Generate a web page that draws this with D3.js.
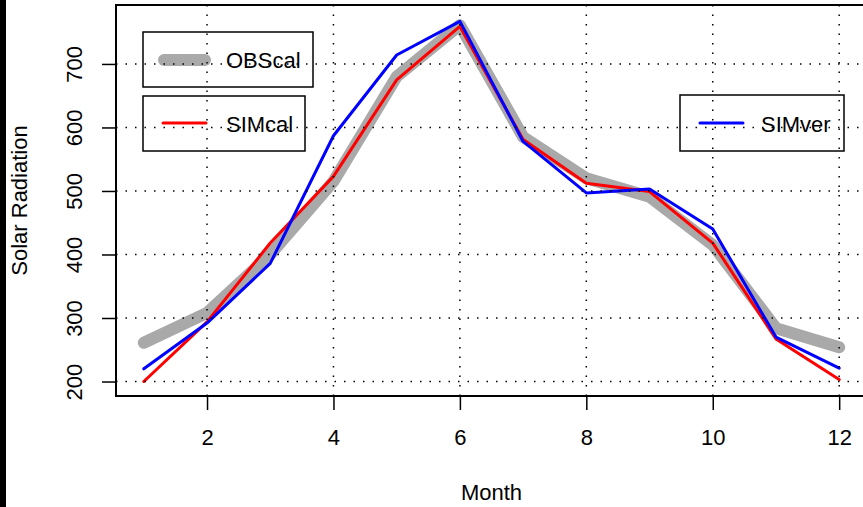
<!DOCTYPE html>
<head>
  <meta charset="utf-8">
  <script src="https://d3js.org/d3.v7.min.js"></script>
  <style>
    body { margin: 0; background: #fff; }
    * { font-family: "Liberation Sans", Arial, sans-serif; }
  </style>
</head>
<body>
  <svg width="863" height="507"></svg>
  <script>
    // values
    const months = [1, 2, 3, 4, 5, 6, 7, 8, 9, 10, 11, 12];
    const obsCal = [261, 308, 400, 515, 680, 761, 585, 520, 491, 415, 284, 254];
    const simCal = [200, 294, 418, 523, 675, 759, 581, 512, 499, 418, 267, 203];
    const simVer = [220, 292, 386, 587, 714, 767, 578, 497, 503, 440, 270, 221];
    const xTicks = [2, 4, 6, 8, 10, 12];
    const yTicks = [200, 300, 400, 500, 600, 700];

    const svg = d3.select("svg");
    const plotL = 116, plotR = 867, plotT = 5, plotB = 396;

    // black strip at left edge of the original picture
    svg.append("rect").attr("x", 0).attr("y", 0).attr("width", 6).attr("height", 507).attr("fill", "#000");

    const x = d3.scaleLinear().domain([0.56, 12.44]).range([plotL, plotR]);
    const y = d3.scaleLinear().domain([177.2, 792.8]).range([plotB, plotT]);

    const line = vals => d3.line()
      .x((d, i) => x(months[i]))
      .y(d => y(d))(vals);

    const series = [
      { vals: obsCal, color: "#a9a9a9", w: 12 },
      { vals: simCal, color: "#ff0000", w: 3 },
      { vals: simVer, color: "#0000ff", w: 3 }
    ];
    series.forEach(s => {
      svg.append("path")
        .attr("d", line(s.vals))
        .attr("fill", "none")
        .attr("stroke", s.color)
        .attr("stroke-width", s.w)
        .attr("stroke-linecap", "round")
        .attr("stroke-linejoin", "round");
    });

    // legends, three separate boxes
    const legends = [
      { label: "OBScal", color: "#a9a9a9", w: 12, bx: 143, by: 32, bw: 170, bh: 55, lx1: 164, lx2: 205, ly: 60, tx: 226, ty: 68 },
      { label: "SIMcal", color: "#ff0000", w: 3, bx: 143, by: 96, bw: 162, bh: 55, lx1: 163, lx2: 206, ly: 123, tx: 226, ty: 131.5 },
      { label: "SIMver", color: "#0000ff", w: 3, bx: 680, by: 95, bw: 164, bh: 56, lx1: 700, lx2: 743, ly: 123, tx: 761, ty: 132 }
    ];
    legends.forEach(l => {
      svg.append("rect")
        .attr("x", l.bx).attr("y", l.by).attr("width", l.bw).attr("height", l.bh)
        .attr("fill", "none").attr("stroke", "#000").attr("stroke-width", 1.5);
      svg.append("line")
        .attr("x1", l.lx1).attr("x2", l.lx2).attr("y1", l.ly).attr("y2", l.ly)
        .attr("stroke", l.color).attr("stroke-width", l.w).attr("stroke-linecap", "round");
      svg.append("text")
        .attr("x", l.tx).attr("y", l.ty)
        .attr("font-size", 22).text(l.label);
    });

    // dotted grid
    const grid = svg.append("g")
      .attr("stroke", "#000").attr("stroke-width", 1.5).attr("stroke-dasharray", "1.5,8");
    xTicks.forEach(t => {
      grid.append("line").attr("x1", x(t)).attr("x2", x(t)).attr("y1", plotB).attr("y2", plotT);
    });
    yTicks.forEach(t => {
      grid.append("line").attr("x1", plotL).attr("x2", plotR).attr("y1", y(t)).attr("y2", y(t));
    });

    // axes
    const xAxis = svg.append("g")
      .attr("transform", `translate(0,${plotB})`)
      .call(d3.axisBottom(x).tickValues(xTicks).tickSize(14).tickFormat(d3.format("d")));
    xAxis.select(".domain").remove();
    xAxis.selectAll("line").attr("stroke-width", 1.5);
    xAxis.selectAll("text")
      .attr("y", 49).attr("dy", 0)
      .attr("font-size", 22).attr("fill", "#000")
      .style("font-family", "'Liberation Sans', Arial, sans-serif");

    const yAxis = svg.append("g")
      .attr("transform", `translate(${plotL},0)`)
      .call(d3.axisLeft(y).tickValues(yTicks).tickSize(14).tickFormat(d3.format("d")));
    yAxis.select(".domain").remove();
    yAxis.selectAll("line").attr("stroke-width", 1.5);
    yAxis.selectAll("text")
      .attr("transform", "rotate(-90)")
      .attr("x", 0).attr("y", -34).attr("dy", 0)
      .attr("text-anchor", "middle")
      .attr("font-size", 22).attr("fill", "#000")
      .style("font-family", "'Liberation Sans', Arial, sans-serif");

    // plot box
    svg.append("rect")
      .attr("x", plotL).attr("y", plotT)
      .attr("width", plotR - plotL).attr("height", plotB - plotT)
      .attr("fill", "none").attr("stroke", "#000").attr("stroke-width", 2);

    // axis titles
    svg.append("text")
      .attr("x", (plotL + plotR) / 2).attr("y", 500)
      .attr("text-anchor", "middle").attr("font-size", 22)
      .text("Month");
    svg.append("text")
      .attr("transform", `translate(27,${(plotT + plotB) / 2}) rotate(-90)`)
      .attr("text-anchor", "middle").attr("font-size", 22)
      .text("Solar Radiation");
  </script>
</body>
